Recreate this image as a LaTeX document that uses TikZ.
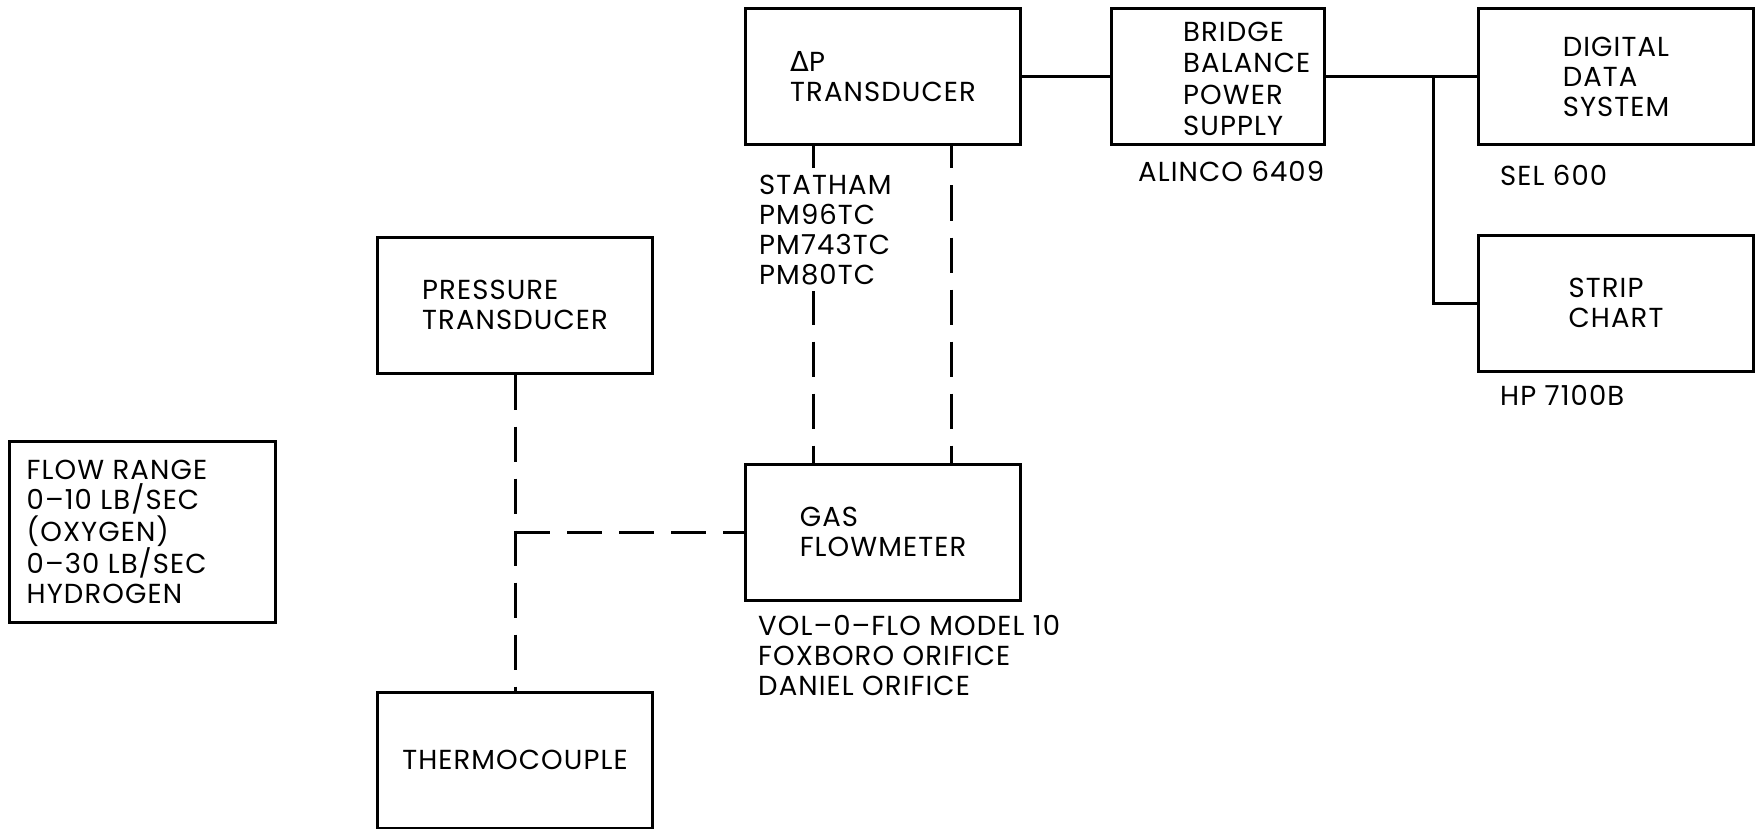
\documentclass[tikz,border=0pt]{standalone}
\usepackage{fontspec}
\setmainfont{Poppins}[LetterSpace=4]
\newfontfamily\deltafont{DejaVu Sans}
\usetikzlibrary{positioning,calc}

\begin{document}
\begin{tikzpicture}[x=1pt, y=-1pt, font=\fontsize{27.5}{30}\selectfont,
		box/.style={draw, line width=3pt, minimum width=275pt, minimum height=136pt, align=left, inner sep=0pt},
		lbl/.style={align=left, inner sep=0pt, anchor=north west},
		wire/.style={line width=3pt},
		dashline/.style={line width=3pt, dash pattern=on 35pt off 17pt}]
		\useasboundingbox (0,0) rectangle (1758,829);
		\node[box] (dp) at (883,77) {{\deltafont Δ}P\\TRANSDUCER};
		\node[box, minimum width=213pt] (bridge) at (1218,77) {};
		\node[box] (dds) at (1616,77) {DIGITAL\\DATA\\SYSTEM};
		\node[box] (strip) at (1616,303) {STRIP\\CHART};
		\node[box] (press) at (515,305) {PRESSURE\\TRANSDUCER};
		\node[box] (gasfm) at (883,532) {GAS\\FLOWMETER};
		\node[box] (thermo) at (515,760) {THERMOCOUPLE};
		\node[box, minimum width=266pt, minimum height=181pt] (range) at (142,532) {};
		\node[lbl, anchor=west, font=\fontsize{27.5}{31.5}\selectfont] (bridgetext) at ([xshift=73pt,yshift=-2pt]bridge.west) {BRIDGE\\BALANCE\\POWER\\SUPPLY};
		\node[lbl, anchor=west] (rangetext) at ([xshift=19pt]range.west) {FLOW RANGE\\0--10 LB/SEC\\(OXYGEN)\\0--30 LB/SEC\\HYDROGEN};
		\coordinate (jn) at (1433,77);
		\draw[wire] (dp.east) -- (bridge.west);
		\draw[wire] (bridge.east) -- (dds.west);
		\draw[wire] (jn) |- (strip.west);
		\draw[dashline, dash phase=13pt] ([xshift=-70pt]dp.south) -- ([xshift=-70pt]gasfm.north);
		\draw[dashline, dash phase=13pt] ([xshift=68pt]dp.south) -- ([xshift=68pt]gasfm.north);
		\draw[dashline] (press) -- (thermo);
		\draw[dashline] (gasfm.west -| press.south) -- (gasfm.west);
		\node[lbl, fill=white, inner ysep=6pt] (statham) at (759,169) {STATHAM\\PM96TC\\PM743TC\\PM80TC};
		\node[lbl] (alinco) at (1138,161) {ALINCO 6409};
		\node[lbl] (sel) at (1500,165) {SEL 600};
		\node[lbl] (hp) at (1500,385) {HP 7100B};
		\node[lbl] (vol) at (758,615) {VOL--0--FLO MODEL 10\\FOXBORO ORIFICE\\DANIEL ORIFICE};
\end{tikzpicture}
\end{document}
